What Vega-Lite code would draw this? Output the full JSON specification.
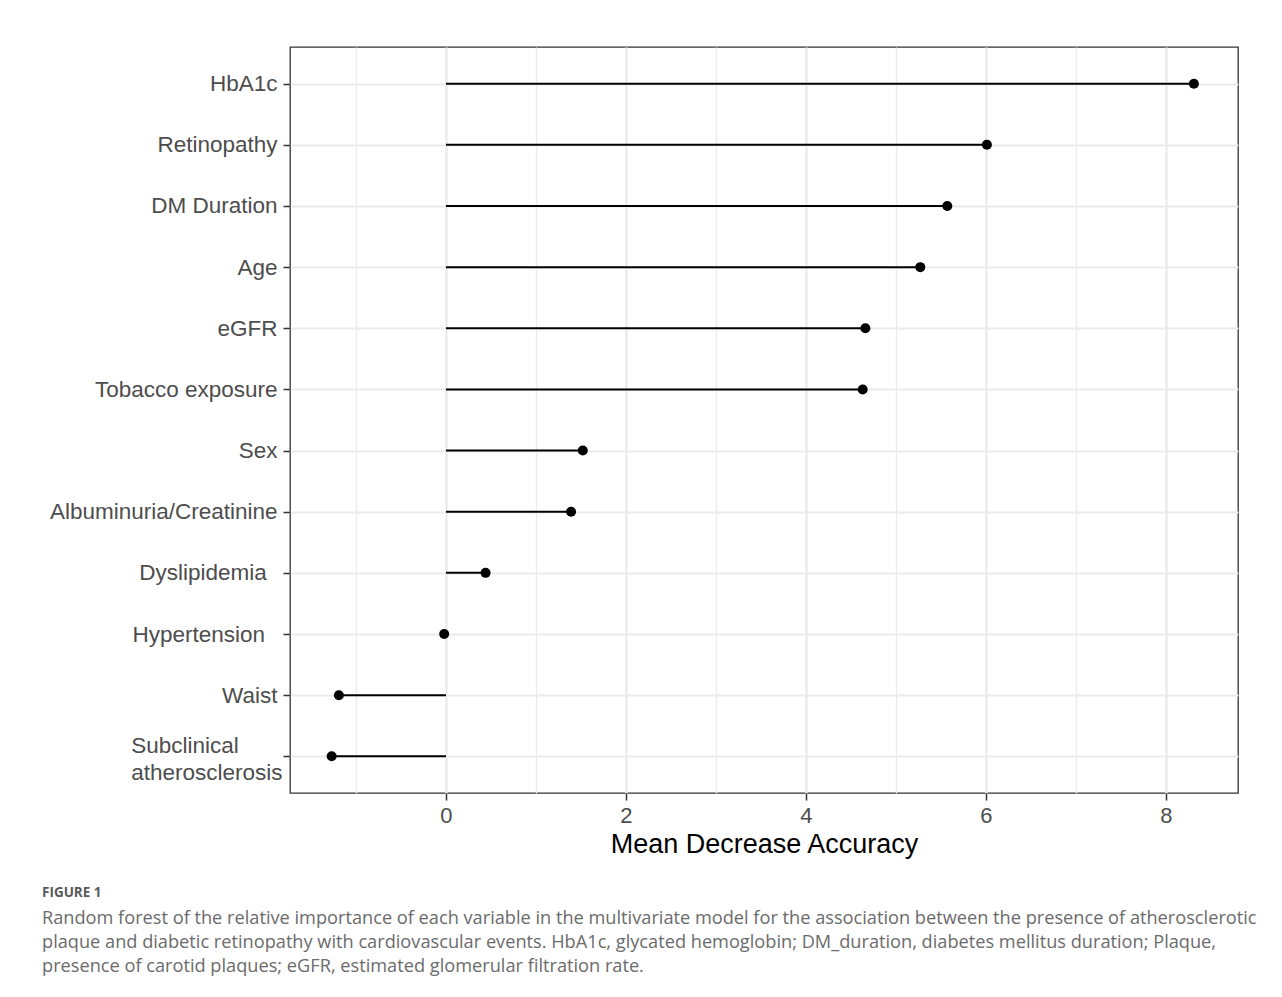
{
  "$schema": "https://vega.github.io/schema/vega-lite/v6.json",
  "width": 948,
  "height": 746,
  "autosize": {"type": "none"},
  "padding": {"left": 290, "top": 47, "right": 44, "bottom": 204},
  "background": "white",
  "title": {
    "text": "FIGURE 1",
    "subtitle": [
      "Random forest of the relative importance of each variable in the multivariate model for the association between the presence of atherosclerotic",
      "plaque and diabetic retinopathy with cardiovascular events. HbA1c, glycated hemoglobin; DM_duration, diabetes mellitus duration; Plaque,",
      "presence of carotid plaques; eGFR, estimated glomerular filtration rate."
    ],
    "orient": "bottom",
    "anchor": "start",
    "frame": "group",
    "dx": -248,
    "offset": 29,
    "font": "Open Sans",
    "fontSize": 13.5,
    "fontWeight": "bold",
    "color": "#5a5a5a",
    "subtitleFont": "Open Sans",
    "subtitleFontSize": 18.2,
    "subtitleColor": "#6b6b6b",
    "subtitleLineHeight": 24,
    "subtitlePadding": 10
  },
  "config": {
    "view": {"stroke": "#333333", "strokeWidth": 1.3},
    "axis": {
      "labelFont": "Liberation Sans",
      "titleFont": "Liberation Sans",
      "labelColor": "#4d4d4d",
      "tickColor": "#333333",
      "tickWidth": 1.5,
      "tickSize": 7,
      "domain": false,
      "gridColor": "#ebebeb"
    }
  },
  "data": {
    "values": [
      {"var": "HbA1c", "mda": 8.31},
      {"var": "Retinopathy", "mda": 6.01},
      {"var": "DM Duration", "mda": 5.57},
      {"var": "Age", "mda": 5.27},
      {"var": "eGFR", "mda": 4.66},
      {"var": "Tobacco exposure", "mda": 4.63},
      {"var": "Sex", "mda": 1.52},
      {"var": "Albuminuria/Creatinine", "mda": 1.39},
      {"var": "Dyslipidemia", "mda": 0.44},
      {"var": "Hypertension", "mda": -0.02},
      {"var": "Waist", "mda": -1.19},
      {"var": "Subclinical atherosclerosis", "mda": -1.27}
    ]
  },
  "encoding": {
    "y": {
      "field": "var",
      "type": "nominal",
      "sort": null,
      "scale": {"type": "point", "padding": 0.6},
      "axis": {
        "title": null,
        "grid": true,
        "gridWidth": 2,
        "labelFontSize": 22.5,
        "labelLimit": 500,
        "labelLineHeight": 27,
        "labelOffset": {"condition": {"test": "datum.value == 'Subclinical atherosclerosis'", "value": -11}, "value": 0},
        "labelPadding": {"condition": {"test": "datum.value == 'Subclinical atherosclerosis'", "value": 1}, "value": 6},
        "labelExpr": "datum.value == 'Subclinical atherosclerosis' ? ['Subclinical\u00a0\u00a0\u00a0\u00a0\u00a0\u00a0\u00a0\u2060', 'atherosclerosis'] : datum.value == 'Dyslipidemia' ? 'Dyslipidemia\u00a0\u2009\u2060' : datum.value == 'Hypertension' ? 'Hypertension\u00a0\u00a0\u2060' : datum.value"
      }
    },
    "x": {
      "field": "mda",
      "type": "quantitative",
      "scale": {"domain": [-1.733, 8.8], "nice": false, "zero": false},
      "axis": {
        "title": "Mean Decrease Accuracy",
        "titleFontSize": 27,
        "titleFontWeight": "normal",
        "titleColor": "black",
        "titlePadding": 5,
        "labelFontSize": 22,
        "labelPadding": 5,
        "values": [-1, 0, 1, 2, 3, 4, 5, 6, 7, 8],
        "labelExpr": "datum.value % 2 == 0 ? datum.label : ''",
        "tickOpacity": {"condition": {"test": "datum.value % 2 == 0", "value": 1}, "value": 0},
        "gridWidth": {"condition": {"test": "datum.value % 2 == 0", "value": 2.4}, "value": 1.4}
      }
    }
  },
  "layer": [
    {
      "mark": {"type": "rule", "color": "black", "strokeWidth": 2},
      "encoding": {
        "x2": {"datum": 0}
      }
    },
    {
      "mark": {"type": "circle", "color": "black", "opacity": 1, "size": 100},
      "encoding": {}
    }
  ]
}
